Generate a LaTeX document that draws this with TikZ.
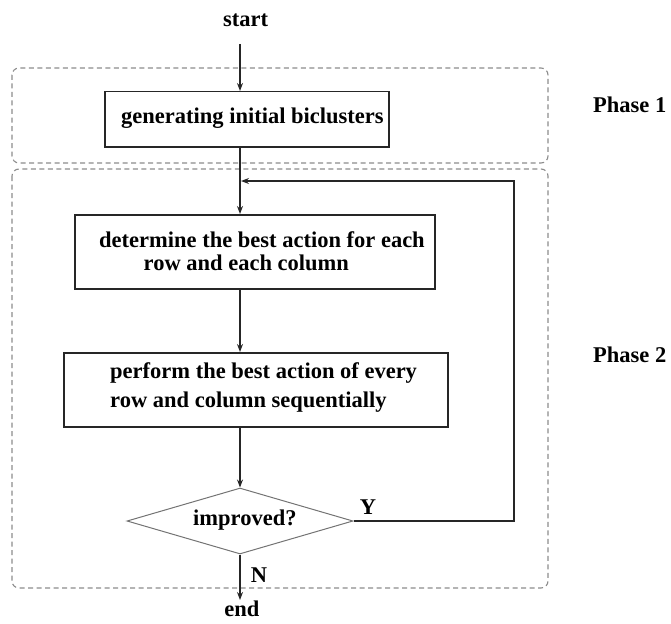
\documentclass[tikz,border=0pt]{standalone}
\usepackage{fontspec}
\setmainfont{Liberation Serif}
\usetikzlibrary{arrows.meta,shapes.geometric}
\begin{document}
\begin{tikzpicture}[x=1pt,y=-1pt,
  txt/.style={inner sep=0pt, font=\fontsize{22.5}{23}\selectfont\bfseries, anchor=base west},
  ctxt/.style={inner sep=0pt, font=\fontsize{22.5}{23}\selectfont\bfseries, anchor=base},
  procbox/.style={draw=black!85, line width=1.5pt, inner sep=0pt, anchor=north west},
  phasebox/.style={draw=black!45, dash pattern=on 5pt off 3.5pt, line width=1.1pt, rounded corners=7pt},
  decision/.style={draw=black!55, line width=1pt, diamond, inner sep=0pt, minimum width=226pt, minimum height=66pt},
  flow/.style={draw=black!85, line width=1.4pt, -{Stealth[length=8pt,width=6pt]}},
]
\useasboundingbox (0,0) rectangle (671,623);

% phase frames
\draw[phasebox] (12,68) rectangle (548,163);
\draw[phasebox] (12,169) rectangle (548,588);
\node[txt] (ph1) at (593,113) {Phase 1};
\node[txt] (ph2) at (593,362) {Phase 2};

% boxes
\node[procbox, minimum width=284pt, minimum height=55pt] (b1) at (104,91) {};
\node[procbox, minimum width=360pt, minimum height=74pt] (b2) at (74,214) {};
\node[procbox, minimum width=384pt, minimum height=74pt] (b3) at (63,352) {};
\node[decision] (dia) at (240,521) {};

% texts
\node[ctxt] (tstart) at (245.5,27) {start};
\node[txt] (t1) at (121,123) {generating initial biclusters};
\node[txt] (t2a) at (99,247) {determine the best action for each};
\node[txt] (t2b) at (143.5,270) {row and each column};
\node[txt] (t3a) at (110,378) {perform the best action of every};
\node[txt] (t3b) at (110,407) {row and column sequentially};
\node[txt] (tdia) at (193,525) {improved?};
\node[ctxt] (ty) at (368,514) {Y};
\node[ctxt] (tn) at (259,582) {N};
\node[ctxt] (tend) at (242,616) {end};

% connectors
\coordinate (spine) at (240,0);
\coordinate (startpt) at (240,44);
\coordinate (endpt) at (240,600);
\coordinate (loopR) at (514,181);
\coordinate (merge) at (241,181);
\draw[flow] (startpt) -- (b1.north -| spine);
\draw[flow] (b1.south -| spine) -- (b2.north -| spine);
\draw[flow] (b2.south -| spine) -- (b3.north -| spine);
\draw[flow] (b3.south -| spine) -- (dia.north);
\draw[flow] (dia.south) -- (endpt);
\draw[flow] (dia.east) -| (loopR) -- (merge);
\end{tikzpicture}
\end{document}
